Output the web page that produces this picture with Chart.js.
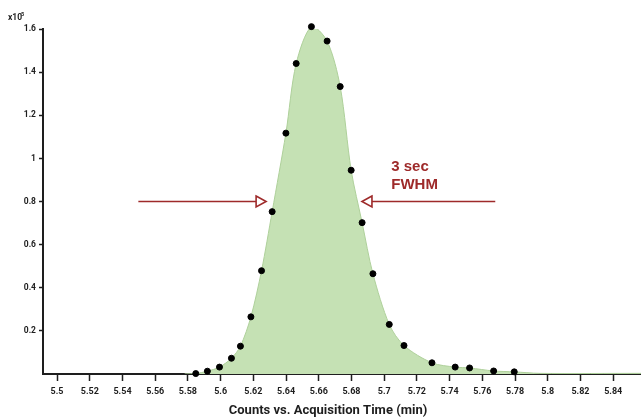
<!DOCTYPE html>
<html lang="en">
<head>
    <meta charset="UTF-8">
    <title>FWHM peak</title>
    <script src="https://cdn.jsdelivr.net/npm/chart.js@4.4.0/dist/chart.umd.min.js"></script>
    <style>
        body { margin: 0; background: #fff; }
    </style>
</head>
<body>

<canvas id="chart" width="641" height="417"></canvas>

<script>

    const times = [5.5848, 5.5919, 5.5993, 5.6066, 5.6121, 5.6185, 5.6250, 5.6315, 5.6399, 5.6462, 5.6555, 5.6651,
        5.6731, 5.6798, 5.6865, 5.6931, 5.7031, 5.7121, 5.7292, 5.7434, 5.7522, 5.7669, 5.7795];
    const counts = [0.002, 0.013, 0.032, 0.073, 0.129, 0.265, 0.479, 0.753, 1.117, 1.440, 1.611, 1.544,
        1.333, 0.945, 0.702, 0.465, 0.230, 0.132, 0.052, 0.032, 0.028, 0.014, 0.010];
    // where the filled trace meets the baseline
    const traceStart = [5.578, 0];
    const traceEnd = [[5.795, 0.003], [5.857, 0.003]];

    const xTicks = [5.5, 5.52, 5.54, 5.56, 5.58, 5.6, 5.62, 5.64, 5.66, 5.68, 5.7, 5.72, 5.74, 5.76, 5.78, 5.8, 5.82, 5.84];
    const yTicks = [0.2, 0.4, 0.6, 0.8, 1, 1.2, 1.4, 1.6];
    const xTitle = 'Counts vs. Acquisition Time (min)';
    const fwhmText = ['3 sec', 'FWHM'];
    const halfMax = 0.8;

    const axisFont = "Roboto, 'DejaVu Sans Condensed', sans-serif";
    const ink = '#1e1e1e';
    const red = '#9e2a2a';

    const points = times.map((t, i) => ({x: t, y: counts[i]}));
    const trace = [{x: traceStart[0], y: traceStart[1]}]
        .concat(points, traceEnd.map(p => ({x: p[0], y: p[1]})));

    function drawArrow(ctx, from, tip, y) {
        const dir = tip > from ? 1 : -1;
        const headLen = 10, half = 5.5;
        const base = tip - dir * headLen;
        ctx.strokeStyle = red;
        ctx.lineWidth = 1.6;
        ctx.beginPath();
        ctx.moveTo(from, y);
        ctx.lineTo(base, y);
        ctx.stroke();
        ctx.beginPath();
        ctx.moveTo(base, y - half);
        ctx.lineTo(tip, y);
        ctx.lineTo(base, y + half);
        ctx.closePath();
        ctx.fillStyle = '#fff';
        ctx.fill();
        ctx.stroke();
    }

    // arrows, FWHM label, exponent and axis title
    const notes = {
        id: 'notes',
        afterDatasetsDraw(chart) {
            const ctx = chart.ctx;
            const xs = chart.scales.x, ys = chart.scales.y;
            const y = ys.getPixelForValue(halfMax);
            ctx.save();
            drawArrow(ctx, xs.getPixelForValue(5.5497), xs.getPixelForValue(5.6278), y);
            drawArrow(ctx, xs.getPixelForValue(5.7679), xs.getPixelForValue(5.6864), y);

            ctx.fillStyle = red;
            ctx.font = "bold 15px 'Liberation Sans', Arial, sans-serif";
            ctx.textBaseline = 'alphabetic';
            ctx.textAlign = 'left';
            ctx.fillText(fwhmText[0], xs.getPixelForValue(5.7043), ys.getPixelForValue(0.943));
            ctx.fillText(fwhmText[1], xs.getPixelForValue(5.7043), ys.getPixelForValue(0.858));

            ctx.fillStyle = ink;
            ctx.font = 'bold 8.5px ' + axisFont;
            ctx.fillText('x10', 8, 19.5);
            ctx.font = 'bold 5.5px ' + axisFont;
            ctx.fillText('5', 21, 15.5);

            ctx.font = 'bold 13px ' + axisFont;
            ctx.textAlign = 'center';
            ctx.fillText(xTitle, 328, 413.5);
            ctx.restore();
        }
    };

    const ctx = document.getElementById('chart').getContext('2d');
    const myChart = new Chart(ctx, {
        type: 'line',
        data: {
            datasets: [{
                type: 'scatter',
                data: points,
                backgroundColor: '#000',
                borderColor: '#000',
                pointRadius: 3,
                clip: false,
                order: 0
            }, {
                type: 'line',
                data: trace,
                borderColor: '#aed09a',
                borderWidth: 1,
                backgroundColor: '#c5e1b4',
                fill: 'origin',
                pointRadius: 0,
                tension: 0.3,
                order: 1
            }]
        },
        options: {
            responsive: false,
            animation: false,
            layout: {autoPadding: false, padding: {top: 29, left: 0, right: 0, bottom: 0}},
            plugins: {legend: {display: false}, tooltip: {enabled: false}},
            scales: {
                x: {
                    type: 'linear',
                    min: 5.4914,
                    max: 5.857,
                    afterBuildTicks: (s) => { s.ticks = xTicks.map(v => ({value: v})); },
                    afterFit: (s) => { s.height = 43; s.paddingLeft = 0; s.paddingRight = 0; },
                    ticks: {
                        callback: (v) => String(v),
                        color: ink,
                        font: {family: axisFont, size: 9, weight: 'bold'},
                        padding: 5,
                        maxRotation: 0,
                        autoSkip: false
                    },
                    grid: {drawOnChartArea: false, tickLength: 7, tickColor: ink, tickWidth: 1.5},
                    border: {color: ink, width: 2}
                },
                y: {
                    min: 0,
                    max: 1.6,
                    afterBuildTicks: (s) => { s.ticks = yTicks.map(v => ({value: v})); },
                    afterFit: (s) => { s.width = 43; },
                    ticks: {
                        callback: (v) => String(v),
                        color: ink,
                        font: {family: axisFont, size: 8.5, weight: 'bold'},
                        padding: 3
                    },
                    grid: {drawOnChartArea: false, tickLength: 4, tickColor: ink, tickWidth: 1.5},
                    border: {color: ink, width: 2}
                }
            }
        },
        plugins: [notes]
    });

</script>

</body>
</html>
